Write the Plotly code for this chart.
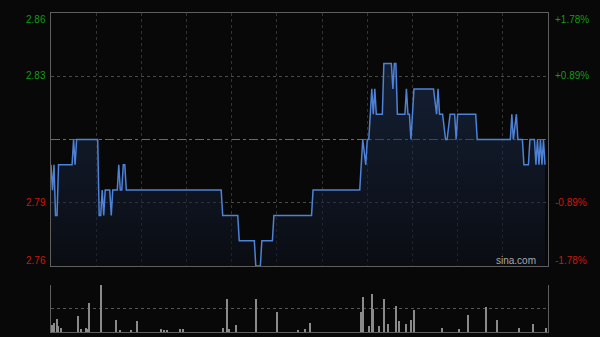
import plotly.graph_objects as go

# ---- data ----
# intraday price vertices (minute index from 09:30, HK session 330 minutes)
minutes = [0, 1, 2, 3, 4, 5, 14, 15, 16, 17, 31, 32, 33, 34, 35, 36, 39, 40, 41, 44,
           45, 46, 47, 48, 49, 50, 113, 114, 124, 125, 135, 136, 139, 140, 147, 148,
           173, 174, 205, 207, 209, 210, 211, 213, 214, 215, 216, 220, 221, 226, 227,
           228, 229, 230, 235, 236, 237, 238, 239, 241, 254, 256, 257, 258, 260, 262,
           263, 265, 268, 269, 270, 282, 283, 305, 306, 307, 309, 310, 313, 314, 317,
           318, 321, 322, 323, 324, 325, 326, 327, 328]
prices = [2.80, 2.79, 2.80, 2.78, 2.78, 2.80, 2.80, 2.81, 2.80, 2.81, 2.81, 2.78, 2.78, 2.79, 2.78, 2.79, 2.79, 2.78, 2.79, 2.79,
          2.80, 2.79, 2.79, 2.80, 2.80, 2.79, 2.79, 2.78, 2.78, 2.77, 2.77, 2.76, 2.76, 2.77, 2.77, 2.78,
          2.78, 2.79, 2.79, 2.81, 2.80, 2.81, 2.81, 2.83, 2.82, 2.83, 2.82, 2.82, 2.84, 2.84, 2.83,
          2.84, 2.84, 2.82, 2.82, 2.83, 2.82, 2.82, 2.81, 2.83, 2.83, 2.82, 2.83, 2.82, 2.82, 2.81,
          2.81, 2.82, 2.82, 2.81, 2.82, 2.82, 2.81, 2.81, 2.82, 2.81, 2.82, 2.81, 2.81, 2.80, 2.80,
          2.81, 2.81, 2.80, 2.81, 2.80, 2.81, 2.80, 2.81, 2.80]

prev_close = 2.81
left_ticks = [2.86, 2.835, 2.785, 2.76]
left_labels = ["2.86", "2.83", "2.79", "2.76"]
right_labels = ["+1.78%", "+0.89%", "-0.89%", "-1.78%"]

vol_minutes = [0, 1, 2, 4, 5, 7, 18, 20, 23, 24, 25, 33, 43, 46, 53, 57, 73, 75, 77, 86, 88,
               114, 117, 118, 123, 136, 150, 164, 169, 172, 206, 207, 211, 213, 214, 218, 221,
               224, 229, 231, 236, 239, 241, 260, 271, 277, 289, 296, 311, 320, 329]
vol_values = [85000, 110000, 135000, 195000, 95000, 60000, 245000, 50000, 60000, 45000, 440000,
              710000, 185000, 35000, 25000, 170000, 45000, 25000, 25000, 45000, 50000,
              60000, 495000, 45000, 105000, 495000, 295000, 25000, 45000, 130000, 295000, 535000,
              85000, 575000, 345000, 85000, 495000, 120000, 395000, 170000, 120000, 185000,
              325000, 60000, 45000, 260000, 380000, 185000, 60000, 115000, 55000]
vol_max = 710000

# ---- figure ----
fig = go.Figure()
fig.add_trace(go.Scatter(
    x=minutes, y=prices, mode="lines",
    line=dict(color="#4d82d6", width=1.5),
    fill="tozeroy",
    fillgradient=dict(type="vertical", start=2.76, stop=2.84,
                      colorscale=[[0, "rgba(12,16,26,0.55)"], [1, "rgba(32,55,95,0.5)"]]),
    xaxis="x", yaxis="y", hoverinfo="skip"))
fig.add_trace(go.Bar(
    x=vol_minutes, y=vol_values, width=0.8,
    marker=dict(color="#8a8a8a", line=dict(width=0)),
    xaxis="x2", yaxis="y2", hoverinfo="skip"))

xdom = [51 / 600, 548 / 600]
border = "#5e5e5e"
fig.update_layout(
    width=600, height=337, margin=dict(l=0, r=0, t=0, b=0),
    paper_bgcolor="#080808", plot_bgcolor="#080808",
    showlegend=False, bargap=0,
    font=dict(family="Liberation Sans, Arial", size=10),
    xaxis=dict(domain=xdom, range=[0, 330], anchor="y",
               tickvals=list(range(30, 330, 30)), showticklabels=False, ticks="",
               showgrid=True, gridcolor="#333333", griddash="dot", gridwidth=1,
               zeroline=False, showline=True, mirror=True, linecolor=border, linewidth=1),
    yaxis=dict(domain=[71 / 337, 324 / 337], range=[2.76, 2.86], anchor="x",
               tickvals=[2.785, 2.835], showticklabels=False, ticks="",
               showgrid=True, gridcolor="#4a4a4a", griddash="dot", gridwidth=1,
               zeroline=False, showline=True, mirror=True, linecolor=border, linewidth=1),
    xaxis2=dict(domain=xdom, range=[0, 330], anchor="y2",
                showticklabels=False, ticks="", showgrid=False, zeroline=False,
                showline=True, linecolor=border, linewidth=1),
    yaxis2=dict(domain=[5 / 337, 52 / 337], range=[0, vol_max], anchor="x2",
                tickvals=[vol_max / 2, vol_max], showticklabels=False, ticks="",
                showgrid=True, gridcolor="#555555", griddash="dot", gridwidth=1,
                zeroline=False, showline=True, mirror=True, linecolor=border, linewidth=1),
)

fig.add_shape(type="line", xref="x", yref="y", x0=0, x1=330, y0=prev_close, y1=prev_close,
              line=dict(color="#6a6a6a", width=1, dash="dashdot"), layer="below")

shifts = [-6, 1, 0, 5.5]
for i, (v, lt, rt) in enumerate(zip(left_ticks, left_labels, right_labels)):
    col = "#139a13" if v > prev_close else "#c8190c"
    fig.add_annotation(x=48 / 600, xref="paper", y=v, yref="y", yshift=shifts[i],
                       text=lt, showarrow=False, xanchor="right", yanchor="middle",
                       font=dict(color=col, size=10))
    fig.add_annotation(x=553 / 600, xref="paper", y=v, yref="y", yshift=shifts[i],
                       text=rt, showarrow=False, xanchor="left", yanchor="middle",
                       font=dict(color=col, size=10))

fig.add_annotation(x=538 / 600, xref="paper", y=2.76, yref="y", yshift=5.5,
                   text="sina.com", showarrow=False, xanchor="right", yanchor="middle",
                   font=dict(color="#a8a8a8", size=10))

fig.write_html("out.html")
